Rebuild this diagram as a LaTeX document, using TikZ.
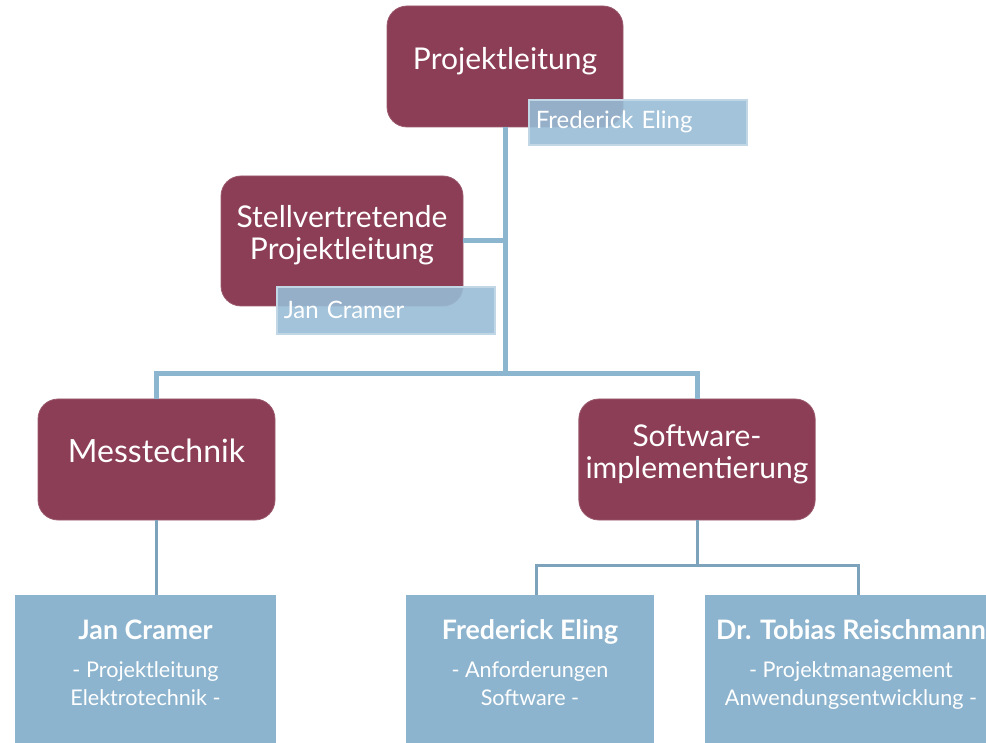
\documentclass[tikz,border=0pt]{standalone}
\usepackage{fontspec}
\setmainfont{Lato}
\definecolor{Berry}{RGB}{139,62,85}
\definecolor{SkyBox}{RGB}{141,180,206}
\definecolor{SkyTag}{RGB}{152,188,214}
\definecolor{SkyLine}{RGB}{140,181,207}
\definecolor{SkyLineDark}{RGB}{125,162,188}
\usetikzlibrary{positioning, calc}

\begin{document}
\begin{tikzpicture}[x=0.5pt, y=-0.5pt,
        unit/.style={rectangle, fill=Berry, draw=Berry!85!white, rounded corners=10pt, minimum width=118pt, minimum height=60.5pt, text height=11pt, text depth=8pt, align=center, text=white, font=\fontsize{15}{16}\selectfont},
        twoline/.style={text height=27pt},
        tag/.style={rectangle, fill=SkyTag, fill opacity=0.9, text opacity=1, draw=SkyTag!60!white, thick, minimum height=22.5pt, text width=102pt, inner xsep=3.5pt, align=left, text=white, font=\fontsize{12}{13}\selectfont, anchor=north west},
        person/.style={rectangle, fill=SkyBox, minimum height=74pt, text depth=6.5pt, align=center, text=white, font=\fontsize{10.8}{14}\selectfont},
        trunk/.style={draw=SkyLine, line width=2.5pt},
        twig/.style={draw=SkyLineDark, line width=1.5pt}
    ]
        \clip (0,0) rectangle (986,743);
        \node[unit] (pl) at (505,66.5) {Projektleitung};
        \node[unit, twoline, minimum width=121pt, minimum height=65pt] (stv) at (342,241) {Stellvertretende\\Projektleitung};
        \node[unit, minimum width=118.5pt, font=\fontsize{16}{17}\selectfont] (mess) at (156.5,459.5) {Messtechnik};
        \node[unit, twoline] (soft) at (697,459.5) {Software-\\implementierung};
        \node[tag] (plname) at (528,99) {Frederick Eling};
        \node[tag, minimum height=23.5pt] (stvname) at (276,286) {Jan Cramer};
        \node[person, minimum width=130.5pt] (jc) at (145.5,669) {{\bfseries\fontsize{13.4}{15}\selectfont Jan Cramer}\\[5pt] - Projektleitung\\Elektrotechnik -};
        \node[person, minimum width=124pt] (fe) at (530,669) {{\bfseries\fontsize{13.4}{15}\selectfont Frederick Eling}\\[5pt] - Anforderungen\\Software -};
        \node[person, minimum width=146pt] (tr) at (851,669) {{\bfseries\fontsize{13.4}{15}\selectfont Dr. Tobias Reischmann}\\[5pt] - Projektmanagement\\Anwendungsentwicklung -};
        % connectors
        \coordinate (hub) at (505,374);
        \coordinate (softhub) at (697,565);
        \draw[trunk] (pl.south) -- (hub);
        \draw[trunk] (stv.east) -- (stv.east -| hub);
        \draw[trunk] (mess.north) |- (hub) -| (soft.north);
        \draw[twig] (mess.south) -- (mess.south |- jc.north);
        \draw[twig] (soft.south) -- (softhub);
        \draw[twig] ($(fe.north)+(6,0)$) |- (softhub) -| ($(tr.north)+(7,0)$);
    \end{tikzpicture}
\end{document}
